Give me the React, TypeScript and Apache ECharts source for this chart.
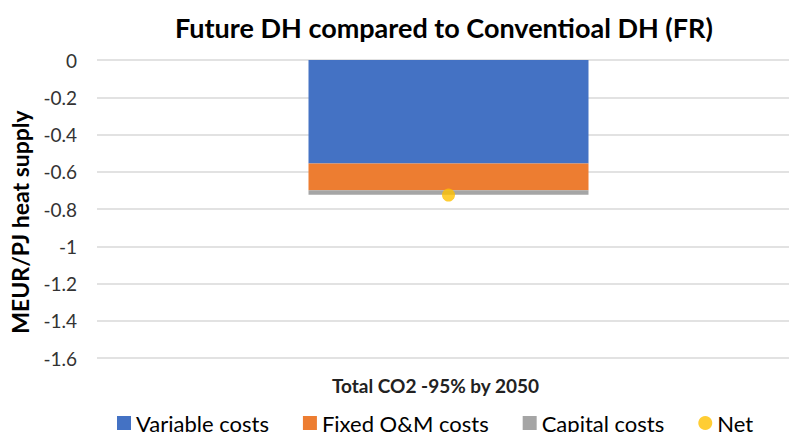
import React, { useEffect, useRef } from "react";
import * as echarts from "echarts";

const categories = ["Total CO2 -95% by 2050"];
const variableCosts = [-0.556];
const fixedCosts = [-0.143];
const capitalCosts = [-0.024];
const net = [-0.725];
const yTicks = { min: -1.6, max: 0, interval: 0.2 };

const FONT = "Lato, 'Open Sans', sans-serif";

export default function App() {
  const ref = useRef<HTMLDivElement>(null);
  useEffect(() => {
    if (!ref.current) return;
    const chart = echarts.init(ref.current, null, { renderer: "svg" });
    chart.setOption({
      animation: false,
      title: {
        text: "Future DH compared to Conventioal DH (FR)",
        left: 170,
        top: 9,
        textStyle: { fontFamily: FONT, fontSize: 27, fontWeight: "bold", color: "#000" },
      },
      legend: {
        top: 407,
        left: 112,
        itemGap: 34,
        itemWidth: 14,
        itemHeight: 14,
        textStyle: { fontFamily: FONT, fontSize: 22, color: "#000" },
        data: [
          { name: "Variable costs", icon: "rect" },
          { name: "Fixed O&M costs", icon: "rect" },
          { name: "Capital costs", icon: "rect" },
          { name: "Net", icon: "circle" },
        ],
      },
      grid: { left: 97, right: 0, top: 60, bottom: 74 },
      xAxis: {
        type: "category",
        data: categories,
        position: "bottom",
        axisLine: { show: false },
        axisTick: { show: false },
        axisLabel: {
          fontFamily: FONT,
          fontSize: 19,
          fontWeight: "bold",
          color: "#222",
          margin: 18,
          padding: [0, 26, 0, 0],
        },
      },
      yAxis: {
        type: "value",
        min: yTicks.min,
        max: yTicks.max,
        interval: yTicks.interval,
        name: "MEUR/PJ heat supply",
        nameLocation: "middle",
        nameRotate: 90,
        nameGap: 66,
        nameTextStyle: {
          fontFamily: FONT,
          fontSize: 23,
          fontWeight: "bold",
          color: "#000",
          padding: [0, 26, 0, 0],
        },
        axisLabel: {
          fontFamily: FONT,
          fontSize: 19,
          color: "#333",
          margin: 20,
          formatter: (v: number) => String(Math.round(v * 10) / 10),
        },
        splitLine: { lineStyle: { color: "#d9d9d9", width: 1.5 } },
      },
      series: [
        { name: "Variable costs", type: "bar", stack: "c", data: variableCosts, barWidth: 280, itemStyle: { color: "#4472C4" } },
        { name: "Fixed O&M costs", type: "bar", stack: "c", data: fixedCosts, itemStyle: { color: "#ED7D31" } },
        { name: "Capital costs", type: "bar", stack: "c", data: capitalCosts, itemStyle: { color: "#A5A5A5" } },
        { name: "Net", type: "scatter", data: net, symbol: "circle", symbolSize: 13, itemStyle: { color: "#FFC000" }, z: 5 },
      ],
    });
    return () => chart.dispose();
  }, []);
  return (
    <div style={{ width: 789, height: 432, position: "absolute", left: 0, top: 0, overflow: "hidden" }}>
      <div ref={ref} style={{ width: 800, height: 432 }} />
    </div>
  );
}
